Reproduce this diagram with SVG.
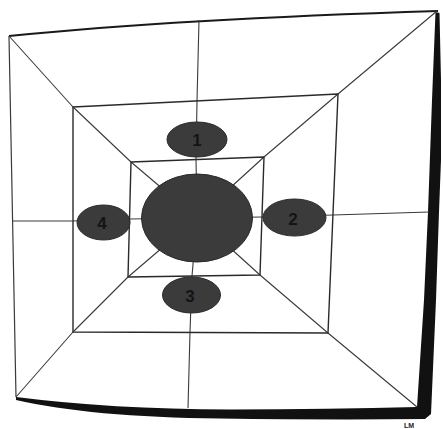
<svg xmlns="http://www.w3.org/2000/svg" width="443" height="429" viewBox="0 0 443 429">
<style>
.ln{fill:none;stroke:#3a3a3a;stroke-width:1.1;stroke-linejoin:round}
.sq{fill:none;stroke:#2a2a2a;stroke-width:1.4;stroke-linejoin:round}
.blob{fill:#3b3b3b;stroke:#2a2a2a;stroke-width:1}
.lbl{font-family:"Liberation Sans","Open Sans",sans-serif;font-size:17px;font-weight:bold;fill:#141414;text-anchor:middle}
</style>
<rect width="443" height="429" fill="#ffffff"/>
<g id="frame">
<path d="M16,397 Q110,409 230,409.5 Q330,409 417,407 L424,300 L428,212 L432,100 L435.5,12 L439.5,13 L441,80 L441,160 L439,212 L436,300 L431,414 L425,419 Q330,420 220,418.5 Q90,417 16,400 Z" fill="#111111"/>
<path d="M9,36 Q178,19 438,11" fill="none" stroke="#1a1a1a" stroke-width="2"/>
<path d="M9,36 L16,397" fill="none" stroke="#3a3a3a" stroke-width="1.2"/>
</g>
<g id="connectors">
<polyline class="ln" points="9,36 73,107 131,162 197,218"/>
<polyline class="ln" points="437,11 338,94 264,157 197,218"/>
<polyline class="ln" points="417,407 328,333 260,275 197,218"/>
<polyline class="ln" points="16,397 73,332 128,277 197,218"/>
<polyline class="ln" points="199,20 197,101 196,159 197,218"/>
<polyline class="ln" points="188,408 190,332 192,276 197,218"/>
<polyline class="ln" points="12,221 73,221 129,219 197,218"/>
<polyline class="ln" points="429,212 333,215 262,217 197,218"/>
</g>
<g id="middle-square"><polygon class="sq" points="73,107 338,94 328,333 73,332"/></g>
<g id="inner-square"><polygon class="sq" points="131,162 264,157 260,275 128,277"/></g>
<g id="center"><ellipse class="blob" cx="197" cy="218" rx="55.5" ry="44"/></g>
<g id="node1"><ellipse class="blob" cx="197" cy="139.5" rx="30" ry="17.5"/><text class="lbl" x="197" y="146">1</text></g>
<g id="node2"><ellipse class="blob" cx="294.5" cy="217.5" rx="31.5" ry="18.5"/><text class="lbl" x="293" y="225">2</text></g>
<g id="node3"><ellipse class="blob" cx="191.5" cy="295" rx="29" ry="18"/><text class="lbl" x="190" y="302">3</text></g>
<g id="node4"><ellipse class="blob" cx="103.5" cy="222.5" rx="26.5" ry="17.5"/><text class="lbl" x="102" y="229">4</text></g>
<text x="409" y="428" font-family="Liberation Sans, sans-serif" font-size="7" font-weight="bold" fill="#222" text-anchor="middle">LM</text>
</svg>
